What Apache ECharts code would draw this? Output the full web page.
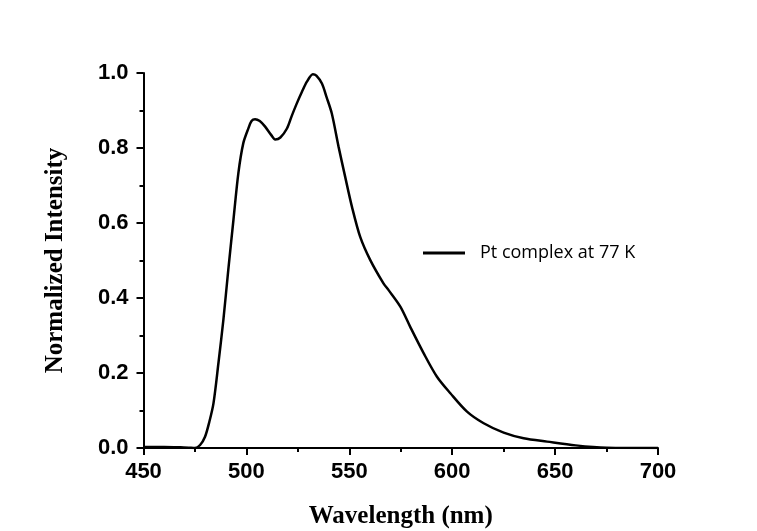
<!DOCTYPE html>
<html>
<head>
<meta charset="utf-8">
<script src="https://cdn.jsdelivr.net/npm/echarts@6/dist/echarts.min.js"></script>
<style>
  html, body { margin: 0; padding: 0; background: #fff; }
  #chart { width: 757px; height: 531px; }
</style>
</head>
<body>
<div id="chart"></div>
<script>
// wavelength (nm) and normalized intensity
var wavelength = [450, 460, 468, 472, 475, 477.5, 479.9, 482, 484, 486.4, 488.8, 491.2, 493.7, 496.1, 498.5,
  501, 502.5, 504.2, 506.5, 509.1, 512, 514, 516.5, 519.7, 522, 524.5, 527, 529.4, 532.3, 534,
  536.7, 539, 541.5, 544.8, 548, 551.3, 555.3, 560.2, 566.6, 569.1, 574.8, 579.6, 586.1, 592.6,
  599.1, 607.2, 615.3, 625, 634.7, 646.1, 660, 675, 700];
var intensity = [0.003, 0.003, 0.002, 0.001, 0.0, 0.008, 0.03, 0.07, 0.119, 0.226, 0.341, 0.475, 0.608, 0.733, 0.813,
  0.853, 0.872, 0.877, 0.872, 0.857, 0.835, 0.823, 0.828, 0.852, 0.885, 0.919, 0.95, 0.977, 0.997, 0.993,
  0.972, 0.935, 0.892, 0.803, 0.723, 0.643, 0.563, 0.501, 0.439, 0.421, 0.377, 0.323, 0.253, 0.19,
  0.146, 0.097, 0.066, 0.041, 0.026, 0.017, 0.007, 0.001, 0];
var seriesName = 'Pt complex at 77 K';

var chart = echarts.init(document.getElementById('chart'));

var points = [];
for (var i = 0; i < wavelength.length; i++) {
  points.push([wavelength[i], intensity[i]]);
}

var axisFont = { fontFamily: 'Liberation Sans', fontWeight: 'bold', fontSize: 22, color: '#000' };
var titleFont = { fontFamily: 'Liberation Serif', fontWeight: 'bold', fontSize: 25, color: '#000' };

var option = {
  backgroundColor: '#fff',
  animation: false,
  grid: { left: 143.5, right: 99, top: 73, bottom: 83, outerBoundsMode: 'none' },
  legend: {
    left: 423,
    top: 244,
    padding: 0,
    icon: 'rect',
    itemWidth: 42,
    itemHeight: 3,
    textStyle: { fontFamily: 'Open Sans', fontSize: 18, lineHeight: 18, color: '#000', padding: [0, 0, 0, 10] },
    data: [seriesName]
  },
  xAxis: {
    type: 'value',
    min: 450,
    max: 700,
    interval: 50,
    name: 'Wavelength (nm)',
    nameLocation: 'middle',
    nameGap: 56,
    nameTextStyle: titleFont,
    axisLine: { onZero: false, lineStyle: { color: '#000', width: 2 } },
    axisTick: { inside: false, length: 7, lineStyle: { color: '#000', width: 2 } },
    minorTick: { show: true, splitNumber: 2, length: 4, lineStyle: { color: '#000', width: 2 } },
    axisLabel: Object.assign({ margin: 13 }, axisFont),
    splitLine: { show: false }
  },
  yAxis: {
    type: 'value',
    min: 0,
    max: 1,
    interval: 0.2,
    name: 'Normalized Intensity',
    nameLocation: 'middle',
    nameGap: 75,
    nameTextStyle: titleFont,
    axisLine: { show: true, onZero: false, lineStyle: { color: '#000', width: 2 } },
    axisTick: { show: true, inside: false, length: 7, lineStyle: { color: '#000', width: 2 } },
    minorTick: { show: true, splitNumber: 2, length: 4, lineStyle: { color: '#000', width: 2 } },
    axisLabel: Object.assign({ margin: 15, formatter: function(v) { return v.toFixed(1); } }, axisFont),
    splitLine: { show: false }
  },
  series: [
    {
      name: seriesName,
      type: 'line',
      smooth: 0.3,
      showSymbol: false,
      data: points,
      itemStyle: { color: '#000' },
      lineStyle: { color: '#000', width: 2.5 }
    }
  ]
};

chart.setOption(option);
</script>
</body>
</html>
